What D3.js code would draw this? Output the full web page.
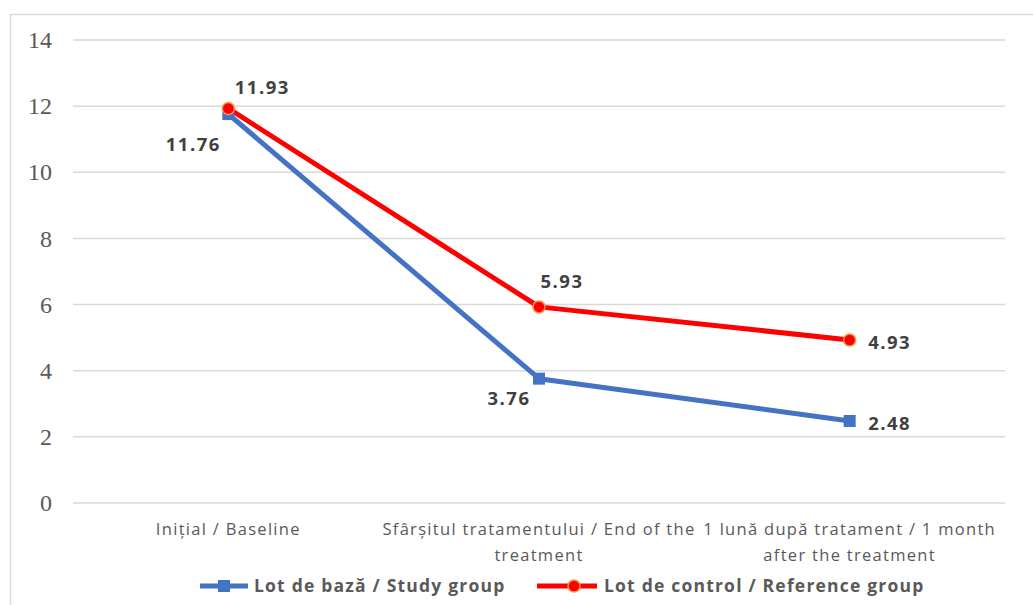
<!DOCTYPE html>
<html>
<head>
<meta charset="utf-8">
<script src="https://cdn.jsdelivr.net/npm/d3@7"></script>
<style>
  body { margin: 0; background: #fff; }
  svg { display: block; }
</style>
</head>
<body>
<div id="chart"></div>
<script>
const categories = [
    ["Inițial / Baseline"],
    ["Sfârșitul tratamentului / End of the", "treatment"],
    ["1 lună după tratament / 1 month", "after the treatment"]
];
const studyValues = [11.76, 3.76, 2.48];
const referenceValues = [11.93, 5.93, 4.93];
const yTicks = [0, 2, 4, 6, 8, 10, 12, 14];
const seriesNames = ["Lot de bază / Study group", "Lot de control / Reference group"];

const W = 1033, H = 605;
const margin = { top: 40, right: 28, bottom: 102, left: 73 };
const width = W - margin.left - margin.right;
const height = H - margin.top - margin.bottom;

const svg = d3.select("#chart").append("svg")
    .attr("width", W)
    .attr("height", H);

//chart area border, runs off the right and bottom edge
svg.append("rect")
    .attr("x", 10.5).attr("y", 14.5)
    .attr("width", 1040).attr("height", 620)
    .attr("fill", "none")
    .attr("stroke", "#d9d9d9")
    .attr("stroke-width", 1.5);

const g = svg.append("g")
    .attr("transform", `translate(${margin.left},${margin.top})`);

const x = d3.scaleBand()
    .domain(d3.range(categories.length))
    .range([0, width]);

const y = d3.scaleLinear()
    .domain([0, 14])
    .range([height, 0]);

//grid lines
g.append("g")
    .selectAll("line")
    .data(yTicks)
    .join("line")
      .attr("x1", 0).attr("x2", width)
      .attr("y1", d => y(d)).attr("y2", d => y(d))
      .attr("stroke", "#d9d9d9")
      .attr("stroke-width", 1.5);

//y labels
const yAxis = g.append("g")
    .call(d3.axisLeft(y).tickValues(yTicks).tickSize(0).tickPadding(21));
yAxis.select(".domain").remove();
yAxis.selectAll("text")
    .attr("font-family", "'Liberation Serif', 'DejaVu Serif', serif")
    .attr("font-size", 24)
    .attr("fill", "#595959");

//category labels, two lines where the original wraps
const catLabels = g.append("g")
    .selectAll("text")
    .data(categories)
    .join("text")
      .attr("x", (d, i) => x(i) + x.bandwidth() / 2)
      .attr("y", height + 32)
      .attr("text-anchor", "middle")
      .attr("font-family", "'Open Sans', sans-serif")
      .attr("font-size", 16.5)
      .attr("letter-spacing", 1.3)
      .attr("fill", "#595959");
catLabels.selectAll("tspan")
    .data(d => d)
    .join("tspan")
      .attr("x", function () { return d3.select(this.parentNode).attr("x"); })
      .attr("dy", (d, i) => i === 0 ? 0 : 26)
      .text(d => d);

const cx = i => x(i) + x.bandwidth() / 2;

const line = d3.line()
    .x((d, i) => cx(i))
    .y(d => y(d));

const series = [
    { name: seriesNames[0], values: studyValues, color: "#4472c4" },
    { name: seriesNames[1], values: referenceValues, color: "#ff0000" }
];

series.forEach(s => {
    g.append("path")
        .datum(s.values)
        .attr("d", line)
        .attr("fill", "none")
        .attr("stroke", s.color)
        .attr("stroke-width", 5)
        .attr("stroke-linejoin", "round");
});

//markers
g.append("g")
    .selectAll("rect")
    .data(studyValues)
    .join("rect")
      .attr("x", (d, i) => cx(i) - 6)
      .attr("y", d => y(d) - 6)
      .attr("width", 12).attr("height", 12)
      .attr("fill", "#4472c4");

g.append("g")
    .selectAll("circle")
    .data(referenceValues)
    .join("circle")
      .attr("cx", (d, i) => cx(i))
      .attr("cy", d => y(d))
      .attr("r", 6)
      .attr("fill", "#ff0000")
      .attr("stroke", "#f79646")
      .attr("stroke-width", 1.5);

//data labels, nudged like the excel layout
const studyOffsets = [[-35, 37], [-30, 26], [40, 9]];
const refOffsets = [[34, -14], [23, -19], [40, 9]];

function addLabels(values, offsets) {
    g.append("g")
        .selectAll("text")
        .data(values)
        .join("text")
          .attr("x", (d, i) => cx(i) + offsets[i][0])
          .attr("y", (d, i) => y(d) + offsets[i][1])
          .attr("text-anchor", "middle")
          .attr("font-family", "'Open Sans', sans-serif")
          .attr("font-weight", "bold")
          .attr("font-size", 18.5)
          .attr("letter-spacing", 1.5)
          .attr("fill", "#404040")
          .text(d => d3.format(".2f")(d));
}
addLabels(studyValues, studyOffsets);
addLabels(referenceValues, refOffsets);

//legend
const legendY = 586;
const legendX = [200, 537];
const legend = svg.append("g")
    .selectAll("g")
    .data(series)
    .join("g")
      .attr("transform", (d, i) => `translate(${legendX[i]},${legendY})`);

legend.append("line")
    .attr("x1", 0).attr("x2", (d, i) => i === 0 ? 48 : 60)
    .attr("stroke", d => d.color)
    .attr("stroke-width", 5);

legend.filter((d, i) => i === 0).append("rect")
    .attr("x", 18).attr("y", -6)
    .attr("width", 12).attr("height", 12)
    .attr("fill", "#4472c4");

legend.filter((d, i) => i === 1).append("circle")
    .attr("cx", 37).attr("r", 6)
    .attr("fill", "#ff0000")
    .attr("stroke", "#f79646")
    .attr("stroke-width", 1.5);

legend.append("text")
    .attr("x", (d, i) => i === 0 ? 54 : 67)
    .attr("y", 6)
    .attr("font-family", "'Open Sans', sans-serif")
    .attr("font-weight", "bold")
    .attr("font-size", 17.5)
    .attr("letter-spacing", 1.2)
    .attr("fill", "#595959")
    .text(d => d.name);
</script>
</body>
</html>
